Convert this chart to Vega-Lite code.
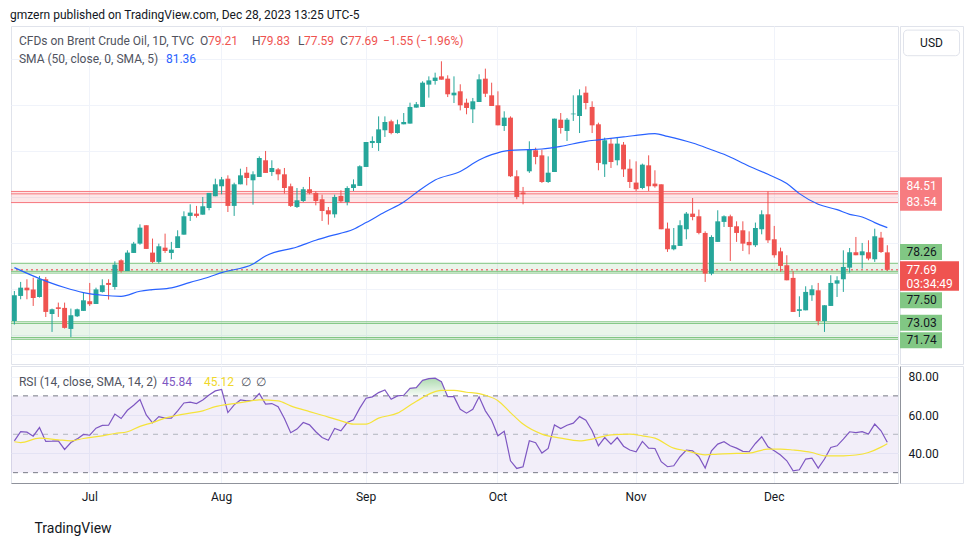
{
"$schema":"https://vega.github.io/schema/vega-lite/v6.json",
"padding":{"left":10,"top":8,"right":0,"bottom":0},
"background":"#ffffff",
"title":{"text":"gmzern published on TradingView.com, Dec 28, 2023 13:25 UTC-5","anchor":"start","fontSize":12,"fontWeight":"normal","color":"#131722","offset":4,"font":"Roboto"},
"config":{"font":"Roboto","view":{"stroke":"#e0e3eb"},"axis":{"minExtent":0,"labelFont":"Roboto","labelFontSize":12,"labelColor":"#131722","domainColor":"#8f929b","gridColor":"#f0f3fa"}},
"datasets":{
"one":[{}],
"bands":[{"lo":83.54,"hi":84.51,"k":"res"},{"lo":77.5,"hi":78.26,"k":"sup"},{"lo":71.65,"hi":73.03,"k":"sup"}],
"blines":[{"y":84.51,"k":"res"},{"y":84.3,"k":"res"},{"y":83.54,"k":"res"},{"y":78.26,"k":"sup"},{"y":77.56,"k":"sup"},{"y":77.41,"k":"sup"},{"y":73.17,"k":"sup"},{"y":73.03,"k":"sup"},{"y":71.8,"k":"sup"},{"y":71.65,"k":"sup"}],
"lv":[{"y":70,"k":"o"},{"y":50,"k":"m"},{"y":30,"k":"o"}],
"tagbox":[{"at":85.01,"k":"pink"},{"at":83.57,"k":"pink"},{"at":79.25,"k":"green"},{"at":77.16,"k":"cur"},{"at":75.04,"k":"green"},{"at":73.08,"k":"green"},{"at":71.57,"k":"green"}],
"tagtxt":[{"t":"84.51","at":85.01,"k":"pink"},{"t":"83.54","at":83.57,"k":"pink"},{"t":"78.26","at":79.25,"k":"green"},{"t":"77.69","at":77.7,"k":"cur"},{"t":"03:34:49","at":76.46,"k":"cur"},{"t":"77.50","at":75.04,"k":"green"},{"t":"73.03","at":73.08,"k":"green"},{"t":"71.74","at":71.57,"k":"green"}],
"bars":[
{"d":"2023-06-15","o":73.24,"h":75.85,"l":72.93,"c":75.48,"r":46.6},
{"d":"2023-06-16","o":75.42,"h":76.64,"l":75.13,"c":76.14,"r":51.4},
{"d":"2023-06-19","o":76.14,"h":76.87,"l":75.13,"c":75.91,"r":51.1},
{"d":"2023-06-20","o":75.99,"h":77.01,"l":74.55,"c":75.25,"r":49.0},
{"d":"2023-06-21","o":75.33,"h":77.16,"l":75.28,"c":76.87,"r":53.5},
{"d":"2023-06-22","o":76.87,"h":77.07,"l":73.59,"c":74.03,"r":46.3},
{"d":"2023-06-23","o":73.85,"h":74.32,"l":72.29,"c":74.26,"r":46.4},
{"d":"2023-06-26","o":74.43,"h":74.84,"l":73.59,"c":74.29,"r":46.6},
{"d":"2023-06-27","o":74.38,"h":74.84,"l":72.58,"c":72.64,"r":42.1},
{"d":"2023-06-28","o":72.55,"h":74.32,"l":71.85,"c":73.74,"r":45.7},
{"d":"2023-06-29","o":73.65,"h":74.32,"l":73.59,"c":74.26,"r":47.6},
{"d":"2023-06-30","o":74.12,"h":75.71,"l":74.12,"c":75.04,"r":49.9},
{"d":"2023-07-03","o":74.96,"h":76.55,"l":74.55,"c":74.7,"r":49.5},
{"d":"2023-07-04","o":74.72,"h":76.14,"l":74.72,"c":75.99,"r":53.2},
{"d":"2023-07-05","o":75.77,"h":76.87,"l":75.71,"c":76.35,"r":54.6},
{"d":"2023-07-06","o":76.55,"h":76.87,"l":75.1,"c":76.38,"r":54.7},
{"d":"2023-07-07","o":76.2,"h":78.43,"l":75.97,"c":78.14,"r":60.5},
{"d":"2023-07-10","o":78.52,"h":78.61,"l":77.45,"c":77.59,"r":58.2},
{"d":"2023-07-11","o":77.59,"h":79.39,"l":77.59,"c":79.19,"r":62.5},
{"d":"2023-07-12","o":79.16,"h":80.12,"l":79.16,"c":79.97,"r":65.1},
{"d":"2023-07-13","o":79.97,"h":81.65,"l":79.88,"c":81.36,"r":68.1},
{"d":"2023-07-14","o":81.57,"h":81.57,"l":79.51,"c":79.51,"r":60.1},
{"d":"2023-07-17","o":79.19,"h":80.41,"l":78.29,"c":78.38,"r":55.9},
{"d":"2023-07-18","o":78.38,"h":79.97,"l":78.23,"c":79.74,"r":59.2},
{"d":"2023-07-19","o":79.62,"h":80.84,"l":79.16,"c":79.33,"r":58.4},
{"d":"2023-07-20","o":79.16,"h":80.12,"l":78.61,"c":79.45,"r":58.4},
{"d":"2023-07-21","o":79.59,"h":81.13,"l":79.59,"c":80.61,"r":62.2},
{"d":"2023-07-24","o":80.75,"h":82.78,"l":80.75,"c":82.35,"r":66.3},
{"d":"2023-07-25","o":82.38,"h":83.39,"l":81.94,"c":82.67,"r":66.7},
{"d":"2023-07-26","o":82.58,"h":83.25,"l":82.23,"c":82.38,"r":66.0},
{"d":"2023-07-27","o":82.49,"h":84.03,"l":82.49,"c":83.22,"r":67.9},
{"d":"2023-07-28","o":83.07,"h":84.38,"l":82.87,"c":84.38,"r":70.5},
{"d":"2023-07-31","o":84.09,"h":85.62,"l":84.09,"c":85.13,"r":72.6},
{"d":"2023-08-01","o":84.96,"h":85.77,"l":84.26,"c":85.56,"r":73.3},
{"d":"2023-08-02","o":85.62,"h":85.91,"l":82.72,"c":83.25,"r":61.3},
{"d":"2023-08-03","o":83.25,"h":85.27,"l":82.38,"c":85.13,"r":65.3},
{"d":"2023-08-04","o":85.13,"h":86.49,"l":85.13,"c":85.91,"r":67.9},
{"d":"2023-08-07","o":86.14,"h":86.64,"l":85.04,"c":85.68,"r":67.4},
{"d":"2023-08-08","o":85.48,"h":86.26,"l":83.36,"c":86.0,"r":67.7},
{"d":"2023-08-09","o":85.77,"h":87.56,"l":85.77,"c":87.42,"r":71.2},
{"d":"2023-08-10","o":87.22,"h":88.03,"l":86.12,"c":86.12,"r":65.7},
{"d":"2023-08-11","o":86.2,"h":87.22,"l":85.86,"c":86.55,"r":66.0},
{"d":"2023-08-14","o":86.43,"h":86.55,"l":85.48,"c":86.0,"r":64.3},
{"d":"2023-08-15","o":86.0,"h":86.55,"l":84.32,"c":84.81,"r":58.2},
{"d":"2023-08-16","o":84.96,"h":85.19,"l":83.16,"c":83.25,"r":50.8},
{"d":"2023-08-17","o":83.16,"h":84.81,"l":83.07,"c":83.74,"r":52.7},
{"d":"2023-08-18","o":83.68,"h":84.9,"l":83.59,"c":84.7,"r":56.1},
{"d":"2023-08-21","o":84.7,"h":85.77,"l":84.26,"c":84.38,"r":54.9},
{"d":"2023-08-22","o":84.38,"h":84.52,"l":83.3,"c":83.68,"r":51.3},
{"d":"2023-08-23","o":83.83,"h":84.23,"l":81.94,"c":82.81,"r":48.3},
{"d":"2023-08-24","o":82.87,"h":83.16,"l":81.62,"c":82.52,"r":46.9},
{"d":"2023-08-25","o":82.52,"h":84.23,"l":82.23,"c":84.03,"r":53.0},
{"d":"2023-08-28","o":84.12,"h":84.61,"l":83.54,"c":83.65,"r":51.8},
{"d":"2023-08-29","o":83.59,"h":84.96,"l":83.3,"c":84.81,"r":56.1},
{"d":"2023-08-30","o":84.81,"h":85.56,"l":84.55,"c":85.13,"r":57.5},
{"d":"2023-08-31","o":84.99,"h":86.78,"l":84.99,"c":86.7,"r":63.6},
{"d":"2023-09-01","o":86.64,"h":88.81,"l":86.64,"c":88.81,"r":68.8},
{"d":"2023-09-04","o":88.72,"h":89.3,"l":88.29,"c":88.9,"r":69.5},
{"d":"2023-09-05","o":88.72,"h":91.04,"l":88.03,"c":89.91,"r":71.7},
{"d":"2023-09-06","o":89.83,"h":91.04,"l":89.25,"c":90.55,"r":73.1},
{"d":"2023-09-07","o":90.61,"h":90.75,"l":89.48,"c":89.59,"r":68.2},
{"d":"2023-09-08","o":89.59,"h":90.75,"l":89.54,"c":90.35,"r":70.0},
{"d":"2023-09-11","o":90.35,"h":91.33,"l":90.35,"c":90.55,"r":70.3},
{"d":"2023-09-12","o":90.41,"h":92.23,"l":90.41,"c":91.86,"r":73.9},
{"d":"2023-09-13","o":91.8,"h":92.29,"l":91.8,"c":92.09,"r":74.3},
{"d":"2023-09-14","o":91.86,"h":94.09,"l":91.86,"c":93.97,"r":78.1},
{"d":"2023-09-15","o":93.8,"h":94.52,"l":92.67,"c":94.17,"r":79.0},
{"d":"2023-09-18","o":94.12,"h":94.84,"l":93.8,"c":94.41,"r":79.2},
{"d":"2023-09-19","o":94.52,"h":95.83,"l":94.23,"c":94.23,"r":77.4},
{"d":"2023-09-20","o":94.32,"h":94.61,"l":92.72,"c":92.96,"r":69.6},
{"d":"2023-09-21","o":92.87,"h":94.52,"l":92.2,"c":93.1,"r":69.6},
{"d":"2023-09-22","o":93.22,"h":93.83,"l":91.56,"c":92.0,"r":63.0},
{"d":"2023-09-25","o":92.23,"h":92.58,"l":91.22,"c":91.77,"r":61.0},
{"d":"2023-09-26","o":91.65,"h":92.64,"l":90.46,"c":92.35,"r":63.0},
{"d":"2023-09-27","o":92.29,"h":94.7,"l":92.29,"c":94.26,"r":69.5},
{"d":"2023-09-28","o":94.32,"h":95.19,"l":92.72,"c":93.01,"r":62.2},
{"d":"2023-09-29","o":92.87,"h":93.97,"l":91.94,"c":91.94,"r":57.3},
{"d":"2023-10-02","o":92.0,"h":93.22,"l":90.26,"c":90.26,"r":49.2},
{"d":"2023-10-03","o":90.2,"h":91.48,"l":89.77,"c":90.93,"r":51.6},
{"d":"2023-10-04","o":90.93,"h":91.04,"l":85.77,"c":85.83,"r":36.2},
{"d":"2023-10-05","o":85.83,"h":86.35,"l":83.83,"c":84.03,"r":32.2},
{"d":"2023-10-06","o":84.41,"h":84.9,"l":83.39,"c":84.26,"r":33.1},
{"d":"2023-10-09","o":86.26,"h":88.87,"l":86.12,"c":88.17,"r":46.6},
{"d":"2023-10-10","o":88.09,"h":88.32,"l":86.87,"c":87.51,"r":45.6},
{"d":"2023-10-11","o":87.65,"h":88.14,"l":85.25,"c":85.33,"r":40.2},
{"d":"2023-10-12","o":85.33,"h":87.56,"l":85.25,"c":86.14,"r":42.6},
{"d":"2023-10-13","o":86.2,"h":90.84,"l":86.2,"c":90.84,"r":54.9},
{"d":"2023-10-16","o":90.75,"h":91.33,"l":89.54,"c":90.03,"r":53.0},
{"d":"2023-10-17","o":89.77,"h":90.9,"l":88.9,"c":90.75,"r":54.7},
{"d":"2023-10-18","o":91.22,"h":92.87,"l":90.64,"c":91.28,"r":55.8},
{"d":"2023-10-19","o":91.07,"h":93.39,"l":89.59,"c":92.87,"r":59.2},
{"d":"2023-10-20","o":93.1,"h":93.65,"l":91.65,"c":92.2,"r":57.3},
{"d":"2023-10-23","o":91.86,"h":92.35,"l":89.59,"c":90.26,"r":51.8},
{"d":"2023-10-24","o":90.35,"h":90.49,"l":86.35,"c":86.99,"r":44.0},
{"d":"2023-10-25","o":86.87,"h":89.19,"l":85.77,"c":88.96,"r":48.3},
{"d":"2023-10-26","o":88.67,"h":89.1,"l":86.55,"c":87.07,"r":44.9},
{"d":"2023-10-27","o":87.22,"h":89.25,"l":86.78,"c":88.67,"r":48.3},
{"d":"2023-10-30","o":88.58,"h":88.81,"l":85.77,"c":86.43,"r":43.8},
{"d":"2023-10-31","o":86.49,"h":87.3,"l":84.81,"c":85.33,"r":41.8},
{"d":"2023-11-01","o":85.28,"h":87.13,"l":84.55,"c":84.7,"r":40.9},
{"d":"2023-11-02","o":84.81,"h":86.93,"l":84.7,"c":86.84,"r":46.3},
{"d":"2023-11-03","o":86.78,"h":87.65,"l":84.55,"c":84.96,"r":42.8},
{"d":"2023-11-06","o":85.19,"h":86.35,"l":84.84,"c":84.96,"r":42.6},
{"d":"2023-11-07","o":85.13,"h":85.13,"l":81.22,"c":81.22,"r":35.7},
{"d":"2023-11-08","o":81.28,"h":81.8,"l":79.25,"c":79.48,"r":33.1},
{"d":"2023-11-09","o":79.48,"h":81.33,"l":79.39,"c":79.83,"r":33.6},
{"d":"2023-11-10","o":79.77,"h":82.0,"l":79.77,"c":81.57,"r":38.3},
{"d":"2023-11-13","o":81.22,"h":82.72,"l":80.35,"c":82.58,"r":41.8},
{"d":"2023-11-14","o":82.58,"h":83.94,"l":82.0,"c":82.29,"r":41.4},
{"d":"2023-11-15","o":82.35,"h":82.93,"l":80.78,"c":80.9,"r":38.3},
{"d":"2023-11-16","o":80.9,"h":81.04,"l":76.64,"c":77.36,"r":32.4},
{"d":"2023-11-17","o":77.36,"h":80.7,"l":77.22,"c":80.55,"r":41.4},
{"d":"2023-11-20","o":80.12,"h":82.87,"l":80.12,"c":81.91,"r":44.9},
{"d":"2023-11-21","o":81.86,"h":82.43,"l":81.42,"c":82.35,"r":46.1},
{"d":"2023-11-22","o":82.35,"h":82.49,"l":78.46,"c":81.42,"r":44.0},
{"d":"2023-11-23","o":81.48,"h":81.91,"l":80.12,"c":80.9,"r":42.8},
{"d":"2023-11-24","o":81.13,"h":81.91,"l":79.33,"c":79.97,"r":41.1},
{"d":"2023-11-27","o":80.12,"h":81.04,"l":79.04,"c":79.83,"r":40.9},
{"d":"2023-11-28","o":79.83,"h":81.8,"l":79.68,"c":81.33,"r":45.2},
{"d":"2023-11-29","o":81.22,"h":82.87,"l":80.78,"c":82.52,"r":48.7},
{"d":"2023-11-30","o":82.52,"h":84.52,"l":80.03,"c":80.26,"r":43.5},
{"d":"2023-12-01","o":80.35,"h":81.51,"l":78.75,"c":78.96,"r":41.4},
{"d":"2023-12-04","o":79.3,"h":79.62,"l":77.51,"c":78.03,"r":39.2},
{"d":"2023-12-05","o":78.09,"h":78.96,"l":76.78,"c":76.78,"r":36.2},
{"d":"2023-12-06","o":76.99,"h":77.57,"l":74.03,"c":74.03,"r":31.0},
{"d":"2023-12-07","o":74.12,"h":75.39,"l":73.59,"c":74.26,"r":31.5},
{"d":"2023-12-08","o":74.17,"h":76.26,"l":74.17,"c":75.77,"r":37.1},
{"d":"2023-12-11","o":75.48,"h":76.35,"l":74.99,"c":76.0,"r":37.6},
{"d":"2023-12-12","o":75.91,"h":76.55,"l":72.87,"c":73.24,"r":32.4},
{"d":"2023-12-13","o":73.24,"h":74.61,"l":72.29,"c":74.61,"r":37.1},
{"d":"2023-12-14","o":74.55,"h":77.22,"l":74.55,"c":76.55,"r":43.1},
{"d":"2023-12-15","o":76.49,"h":77.13,"l":75.33,"c":76.78,"r":44.0},
{"d":"2023-12-18","o":76.87,"h":79.39,"l":75.77,"c":77.94,"r":47.5},
{"d":"2023-12-19","o":77.88,"h":79.59,"l":77.45,"c":79.22,"r":51.3},
{"d":"2023-12-20","o":79.22,"h":80.55,"l":78.96,"c":78.96,"r":50.9},
{"d":"2023-12-21","o":78.96,"h":80.03,"l":77.8,"c":79.3,"r":51.4},
{"d":"2023-12-22","o":79.22,"h":80.26,"l":78.52,"c":78.67,"r":50.1},
{"d":"2023-12-26","o":78.61,"h":81.27,"l":78.38,"c":80.61,"r":55.3},
{"d":"2023-12-27","o":80.49,"h":80.99,"l":79.16,"c":79.24,"r":51.8},
{"d":"2023-12-28","o":79.21,"h":79.83,"l":77.59,"c":77.69,"r":45.84}
],
"sma":[
{"d":"2023-06-15","v":77.88},{"d":"2023-06-21","v":76.93},{"d":"2023-06-27","v":76.15},{"d":"2023-06-30","v":75.71},{"d":"2023-07-05","v":75.48},{"d":"2023-07-10","v":75.39},{"d":"2023-07-13","v":75.83},{"d":"2023-07-17","v":75.97},{"d":"2023-07-20","v":76.12},{"d":"2023-07-25","v":76.6},{"d":"2023-07-28","v":77.07},{"d":"2023-08-01","v":77.45},{"d":"2023-08-08","v":78.2},{"d":"2023-08-10","v":78.9},{"d":"2023-08-17","v":79.68},{"d":"2023-08-22","v":80.26},{"d":"2023-08-24","v":80.6},{"d":"2023-08-30","v":81.22},{"d":"2023-09-01","v":81.8},{"d":"2023-09-06","v":82.72},{"d":"2023-09-11","v":83.59},{"d":"2023-09-13","v":84.4},{"d":"2023-09-18","v":85.5},{"d":"2023-09-22","v":86.25},{"d":"2023-09-27","v":87.25},{"d":"2023-09-29","v":87.71},{"d":"2023-10-04","v":88.09},{"d":"2023-10-09","v":88.14},{"d":"2023-10-11","v":88.2},{"d":"2023-10-16","v":88.43},{"d":"2023-10-20","v":88.87},{"d":"2023-10-24","v":89.0},{"d":"2023-10-30","v":89.25},{"d":"2023-11-01","v":89.39},{"d":"2023-11-06","v":89.54},{"d":"2023-11-08","v":89.3},{"d":"2023-11-14","v":88.72},{"d":"2023-11-17","v":88.14},{"d":"2023-11-21","v":87.74},{"d":"2023-11-27","v":86.7},{"d":"2023-11-30","v":86.0},{"d":"2023-12-05","v":85.19},{"d":"2023-12-07","v":84.32},{"d":"2023-12-12","v":83.39},{"d":"2023-12-15","v":82.93},{"d":"2023-12-19","v":82.52},{"d":"2023-12-21","v":82.29},{"d":"2023-12-26","v":81.8},{"d":"2023-12-28","v":81.36}
],
"rsma":[
{"d":"2023-06-15","v":46.1},{"d":"2023-06-16","v":45.7},{"d":"2023-06-21","v":48.0},{"d":"2023-06-26","v":47.1},{"d":"2023-06-28","v":46.6},{"d":"2023-06-30","v":47.8},{"d":"2023-07-05","v":49.2},{"d":"2023-07-07","v":50.4},{"d":"2023-07-11","v":51.3},{"d":"2023-07-13","v":54.1},{"d":"2023-07-17","v":56.1},{"d":"2023-07-19","v":58.4},{"d":"2023-07-24","v":60.5},{"d":"2023-07-27","v":62.2},{"d":"2023-07-31","v":64.4},{"d":"2023-08-03","v":66.0},{"d":"2023-08-07","v":67.0},{"d":"2023-08-09","v":67.9},{"d":"2023-08-14","v":67.4},{"d":"2023-08-16","v":64.8},{"d":"2023-08-21","v":61.8},{"d":"2023-08-23","v":59.9},{"d":"2023-08-28","v":57.0},{"d":"2023-08-30","v":55.3},{"d":"2023-09-01","v":55.3},{"d":"2023-09-05","v":58.4},{"d":"2023-09-08","v":61.0},{"d":"2023-09-12","v":65.1},{"d":"2023-09-14","v":69.1},{"d":"2023-09-18","v":72.2},{"d":"2023-09-19","v":72.9},{"d":"2023-09-21","v":72.9},{"d":"2023-09-25","v":71.9},{"d":"2023-09-27","v":71.2},{"d":"2023-09-28","v":70.3},{"d":"2023-10-02","v":67.5},{"d":"2023-10-04","v":61.3},{"d":"2023-10-06","v":55.3},{"d":"2023-10-11","v":50.1},{"d":"2023-10-16","v":48.0},{"d":"2023-10-19","v":46.6},{"d":"2023-10-23","v":47.5},{"d":"2023-10-26","v":49.7},{"d":"2023-10-31","v":50.1},{"d":"2023-11-02","v":49.2},{"d":"2023-11-06","v":48.0},{"d":"2023-11-09","v":42.8},{"d":"2023-11-13","v":41.4},{"d":"2023-11-16","v":39.3},{"d":"2023-11-20","v":39.7},{"d":"2023-11-23","v":40.0},{"d":"2023-11-27","v":40.2},{"d":"2023-11-30","v":42.3},{"d":"2023-12-04","v":42.3},{"d":"2023-12-06","v":41.8},{"d":"2023-12-11","v":40.5},{"d":"2023-12-13","v":38.8},{"d":"2023-12-18","v":38.8},{"d":"2023-12-20","v":39.2},{"d":"2023-12-22","v":40.5},{"d":"2023-12-27","v":43.3},{"d":"2023-12-28","v":45.12}
]
},
"spacing":0,
"vconcat":[
{"spacing":0,"hconcat":[
{"width":887,"height":338,"layer":[
{"data":{"name":"bars"},"mark":{"type":"point","opacity":0},"encoding":{"x":{"field":"d","type":"ordinal","title":null,"scale":{"type":"band","paddingInner":0.22,"paddingOuter":0.73,"align":0.1,"round":false},"axis":{"orient":"bottom","values":["2023-07-03","2023-08-01","2023-09-01","2023-10-02","2023-11-01","2023-12-01"],"labels":false,"ticks":false,"domain":false,"grid":true,"bandPosition":0.5,"title":null}},"y":{"field":"c","type":"quantitative","title":null,"scale":{"domain":[69.5,98.9],"zero":false,"nice":false},"axis":{"orient":"right","values":[70.35,72,76,80,84,88,92,96],"labels":false,"ticks":false,"domain":false,"grid":true,"title":null}}}},
{"data":{"name":"bands"},"mark":{"type":"rect","opacity":0.12},"encoding":{"y":{"field":"lo","type":"quantitative","title":null},"y2":{"field":"hi"},"color":{"condition":{"test":"datum.k==='res'","value":"#f23645"},"value":"#4caf50"}}},
{"data":{"name":"blines"},"mark":{"type":"rule","strokeWidth":1},"encoding":{"y":{"field":"y","type":"quantitative","title":null},"color":{"condition":{"test":"datum.k==='res'","value":"#f7767c"},"value":"#7cc47f"}}},
{"data":{"name":"one"},"mark":{"type":"rule","color":"#f23645","strokeDash":[2,3],"strokeWidth":1},"encoding":{"y":{"datum":77.69,"type":"quantitative"}}},
{"data":{"name":"bars"},"mark":{"type":"rule","strokeWidth":1},"encoding":{"x":{"field":"d","type":"ordinal","title":null},"y":{"field":"l","type":"quantitative","title":null},"y2":{"field":"h"},"color":{"condition":{"test":"datum.c >= datum.o","value":"#26a69a"},"value":"#ef5350"}}},
{"data":{"name":"bars"},"mark":{"type":"bar"},"encoding":{"x":{"field":"d","type":"ordinal","title":null},"y":{"field":"o","type":"quantitative","title":null},"y2":{"field":"c"},"color":{"condition":{"test":"datum.c >= datum.o","value":"#26a69a"},"value":"#ef5350"}}},
{"data":{"name":"sma"},"mark":{"type":"line","color":"#2962ff","strokeWidth":1.2,"interpolate":"monotone"},"encoding":{"x":{"field":"d","type":"ordinal","title":null},"y":{"field":"v","type":"quantitative","title":null}}},
{"data":{"name":"one"},"mark":{"type":"text","text":"CFDs on Brent Crude Oil, 1D, TVC","align":"left","baseline":"middle","fontSize":12,"color":"#50535e","dx":4.6},"encoding":{"x":{"datum":"2023-06-15","type":"ordinal"},"y":{"datum":97.6,"type":"quantitative"}}},
{"data":{"name":"one"},"mark":{"type":"text","text":"O","align":"left","baseline":"middle","fontSize":12,"color":"#50535e","dx":185.6},"encoding":{"x":{"datum":"2023-06-15","type":"ordinal"},"y":{"datum":97.6,"type":"quantitative"}}},
{"data":{"name":"one"},"mark":{"type":"text","text":"79.21","align":"left","baseline":"middle","fontSize":12,"color":"#ef5350","dx":193.6},"encoding":{"x":{"datum":"2023-06-15","type":"ordinal"},"y":{"datum":97.6,"type":"quantitative"}}},
{"data":{"name":"one"},"mark":{"type":"text","text":"H","align":"left","baseline":"middle","fontSize":12,"color":"#50535e","dx":237.6},"encoding":{"x":{"datum":"2023-06-15","type":"ordinal"},"y":{"datum":97.6,"type":"quantitative"}}},
{"data":{"name":"one"},"mark":{"type":"text","text":"79.83","align":"left","baseline":"middle","fontSize":12,"color":"#ef5350","dx":245.6},"encoding":{"x":{"datum":"2023-06-15","type":"ordinal"},"y":{"datum":97.6,"type":"quantitative"}}},
{"data":{"name":"one"},"mark":{"type":"text","text":"L","align":"left","baseline":"middle","fontSize":12,"color":"#50535e","dx":283.6},"encoding":{"x":{"datum":"2023-06-15","type":"ordinal"},"y":{"datum":97.6,"type":"quantitative"}}},
{"data":{"name":"one"},"mark":{"type":"text","text":"77.59","align":"left","baseline":"middle","fontSize":12,"color":"#ef5350","dx":289.6},"encoding":{"x":{"datum":"2023-06-15","type":"ordinal"},"y":{"datum":97.6,"type":"quantitative"}}},
{"data":{"name":"one"},"mark":{"type":"text","text":"C","align":"left","baseline":"middle","fontSize":12,"color":"#50535e","dx":325.6},"encoding":{"x":{"datum":"2023-06-15","type":"ordinal"},"y":{"datum":97.6,"type":"quantitative"}}},
{"data":{"name":"one"},"mark":{"type":"text","text":"77.69","align":"left","baseline":"middle","fontSize":12,"color":"#ef5350","dx":333.6},"encoding":{"x":{"datum":"2023-06-15","type":"ordinal"},"y":{"datum":97.6,"type":"quantitative"}}},
{"data":{"name":"one"},"mark":{"type":"text","text":"−1.55 (−1.96%)","align":"left","baseline":"middle","fontSize":12,"color":"#ef5350","dx":368.6},"encoding":{"x":{"datum":"2023-06-15","type":"ordinal"},"y":{"datum":97.6,"type":"quantitative"}}},
{"data":{"name":"one"},"mark":{"type":"text","text":"SMA (50, close, 0, SMA, 5)","align":"left","baseline":"middle","fontSize":12,"color":"#50535e","dx":4.6},"encoding":{"x":{"datum":"2023-06-15","type":"ordinal"},"y":{"datum":96.03,"type":"quantitative"}}},
{"data":{"name":"one"},"mark":{"type":"text","text":"81.36","align":"left","baseline":"middle","fontSize":12,"color":"#2962ff","dx":151.6},"encoding":{"x":{"datum":"2023-06-15","type":"ordinal"},"y":{"datum":96.03,"type":"quantitative"}}}
]},
{"width":63,"height":338,"layer":[
{"data":{"name":"tagbox"},"mark":{"type":"point","filled":true,"opacity":1,"size":4096,"strokeWidth":0},"encoding":{"y":{"field":"at","type":"quantitative","scale":{"domain":[69.5,98.9],"zero":false,"nice":false},"axis":{"orient":"left","values":[80,88,92,96],"format":".2f","labelAlign":"left","labelBaseline":"middle","labelPadding":-8,"ticks":false,"tickSize":0,"domain":true,"grid":false,"title":null,"labelColor":"#131722"}},"shape":{"condition":[{"test":"datum.k==='cur'","value":"M-0.984,-0.46H0.859V0.46H-0.984Z"},{"test":"datum.k==='pink'","value":"M-0.984,-0.262H0.328V0.262H-0.984Z"}],"value":"M-0.984,-0.25H0.328V0.25H-0.984Z"},"color":{"condition":[{"test":"datum.k==='pink'","value":"#f77c80"},{"test":"datum.k==='cur'","value":"#ef5350"}],"value":"#81c784"}}},
{"data":{"name":"tagtxt"},"mark":{"type":"text","align":"left","baseline":"middle","dx":-25,"fontSize":12},"encoding":{"y":{"field":"at","type":"quantitative","axis":null},"text":{"field":"t","type":"nominal"},"color":{"condition":{"test":"datum.k==='green'","value":"#131722"},"value":"#ffffff"}}},
{"data":{"name":"one"},"mark":{"type":"point","shape":"M-0.75,-0.4H0.75A0.125,0.125,0,0,1,0.875,-0.275V0.275A0.125,0.125,0,0,1,0.75,0.4H-0.75A0.125,0.125,0,0,1,-0.875,0.275V-0.275A0.125,0.125,0,0,1,-0.75,-0.4Z","size":4096,"filled":true,"fill":"#ffffff","stroke":"#e0e3eb","strokeWidth":1,"opacity":1},"encoding":{"y":{"datum":97.43,"type":"quantitative","axis":null}}},
{"data":{"name":"one"},"mark":{"type":"text","text":"USD","fontSize":12,"color":"#131722","baseline":"middle"},"encoding":{"y":{"datum":97.43,"type":"quantitative","axis":null}}}
]}
]},
{"spacing":0,"hconcat":[
{"width":887,"height":117,"layer":[
{"data":{"name":"bars"},"mark":{"type":"point","opacity":0},"encoding":{"x":{"field":"d","type":"ordinal","scale":{"type":"band","paddingInner":0.22,"paddingOuter":0.73,"align":0.1,"round":false},"axis":{"orient":"bottom","values":["2023-07-03","2023-08-01","2023-09-01","2023-10-02","2023-11-01","2023-12-01"],"bandPosition":0.5,"labelExpr":"utcFormat(toDate(datum.value), '%b')","labelAngle":0,"ticks":false,"tickSize":0,"labelPadding":8,"domain":true,"grid":true,"labelColor":"#131722","labelFontSize":12,"title":"TradingView","titleX":23,"titleY":45,"titleAlign":"left","titleBaseline":"middle","titleFontSize":14,"titleFontWeight":"normal","titleColor":"#131722"}},"y":{"field":"r","type":"quantitative","title":null,"scale":{"domain":[24.62,85.56],"zero":false,"nice":false},"axis":{"orient":"right","values":[40,60,80],"labels":false,"ticks":false,"domain":false,"grid":true,"title":null}}}},
{"data":{"name":"one"},"mark":{"type":"rect","color":"#7e57c2","opacity":0.1},"encoding":{"y":{"datum":30,"type":"quantitative"},"y2":{"datum":70}}},
{"data":{"name":"lv"},"mark":{"type":"rule","strokeDash":[5,5],"strokeWidth":1},"encoding":{"y":{"field":"y","type":"quantitative","title":null},"color":{"condition":{"test":"datum.k==='m'","value":"#b2b5be"},"value":"#787b86"}}},
{"data":{"name":"bars"},"transform":[{"filter":"datum.d >= '2023-09-11' && datum.d <= '2023-09-20'"}],"mark":{"type":"area","color":{"gradient":"linear","x1":0,"y1":0,"x2":0,"y2":1,"stops":[{"offset":0,"color":"rgba(76,175,80,0.45)"},{"offset":1,"color":"rgba(76,175,80,0.03)"}]}},"encoding":{"x":{"field":"d","type":"ordinal"},"y":{"field":"r","type":"quantitative","title":null},"y2":{"datum":70}}},
{"data":{"name":"bars"},"mark":{"type":"line","color":"#7e57c2","strokeWidth":1.2},"encoding":{"x":{"field":"d","type":"ordinal"},"y":{"field":"r","type":"quantitative","title":null}}},
{"data":{"name":"rsma"},"mark":{"type":"line","color":"#f5e33a","strokeWidth":1.2,"interpolate":"monotone"},"encoding":{"x":{"field":"d","type":"ordinal"},"y":{"field":"v","type":"quantitative","title":null}}},
{"data":{"name":"one"},"mark":{"type":"text","text":"RSI (14, close, SMA, 14, 2)","align":"left","baseline":"middle","fontSize":12,"color":"#50535e","dx":4.6},"encoding":{"x":{"datum":"2023-06-15","type":"ordinal"},"y":{"datum":77.25,"type":"quantitative"}}},
{"data":{"name":"one"},"mark":{"type":"text","text":"45.84","align":"left","baseline":"middle","fontSize":12,"color":"#7e57c2","dx":147.6},"encoding":{"x":{"datum":"2023-06-15","type":"ordinal"},"y":{"datum":77.25,"type":"quantitative"}}},
{"data":{"name":"one"},"mark":{"type":"text","text":"45.12","align":"left","baseline":"middle","fontSize":12,"color":"#f0d82a","dx":189.6},"encoding":{"x":{"datum":"2023-06-15","type":"ordinal"},"y":{"datum":77.25,"type":"quantitative"}}},
{"data":{"name":"one"},"mark":{"type":"text","text":"∅","align":"left","baseline":"middle","fontSize":12,"color":"#50535e","dx":226.6},"encoding":{"x":{"datum":"2023-06-15","type":"ordinal"},"y":{"datum":77.25,"type":"quantitative"}}},
{"data":{"name":"one"},"mark":{"type":"text","text":"∅","align":"left","baseline":"middle","fontSize":12,"color":"#50535e","dx":241.6},"encoding":{"x":{"datum":"2023-06-15","type":"ordinal"},"y":{"datum":77.25,"type":"quantitative"}}}
]},
{"width":63,"height":117,"layer":[
{"data":{"name":"one"},"mark":{"type":"point","opacity":0},"encoding":{"y":{"datum":50,"type":"quantitative","scale":{"domain":[24.62,85.56],"zero":false,"nice":false},"axis":{"orient":"left","values":[40,60,80],"format":".2f","labelAlign":"left","labelBaseline":"middle","labelPadding":-8,"ticks":false,"tickSize":0,"domain":true,"grid":false,"title":null,"labelColor":"#131722"}}}}
]}
]}
]
}
